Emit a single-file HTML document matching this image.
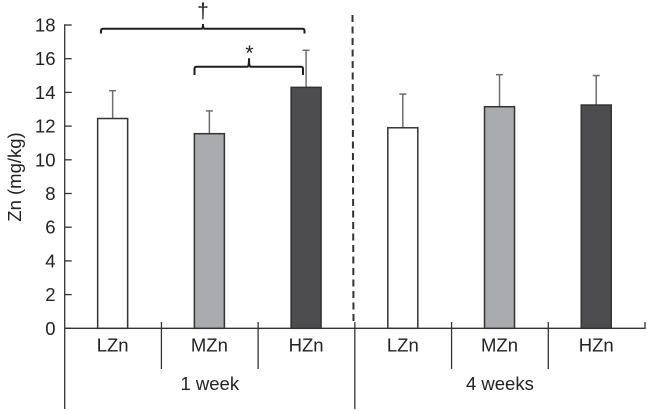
<!DOCTYPE html>
<html lang="en">
<head>
<meta charset="utf-8">
<title>Zn by dose and time</title>
<style>
html,body{margin:0;padding:0;background:#fff;width:647px;height:411px;overflow:hidden}
svg{display:block}
text{font-family:"Liberation Sans",Arial,sans-serif;fill:#222}
</style>
</head>
<body>
<svg id="chart" xmlns="http://www.w3.org/2000/svg" width="647" height="411" viewBox="0 0 647 411">
  <g id="axes"></g>
  <g id="bars"></g>
  <g id="annotations">
    <path d="M101 33.5 V31 Q101 28.8 103 28.8 H201.5 Q203 28.8 203 24 Q203 28.8 204.5 28.8 H302.5 Q304.5 28.8 304.5 31 V33.5" fill="none" stroke="#1e1e1e" stroke-width="2"/>
    <path d="M194.5 75 V69 Q194.5 66.8 196.5 66.8 H247.5 Q249 66.8 249 58.3 Q249 66.8 250.5 66.8 H301 Q303 66.8 303 69 V75" fill="none" stroke="#1e1e1e" stroke-width="2"/>
    <text x="203" y="18" font-size="21" text-anchor="middle">†</text>
    <text x="249.5" y="60" font-size="21" text-anchor="middle">*</text>
  </g>
  <line x1="352.5" y1="15" x2="353.5" y2="322" stroke="#333" stroke-width="2" stroke-dasharray="7 4.5"/>
  <text transform="translate(21 177) rotate(-90)" font-size="18.5" text-anchor="middle">Zn (mg/kg)</text>
</svg>
<script>
const categories = ['LZn', 'MZn', 'HZn', 'LZn', 'MZn', 'HZn'];
const seriesMeans = [12.45, 11.55, 14.3, 11.9, 13.15, 13.25];
const errorTops = [14.1, 12.9, 16.5, 13.9, 15.05, 15.0];
const barFills = ['#ffffff', '#a9abae', '#4d4d4f', '#ffffff', '#a9abae', '#4d4d4f'];
const yTicks = [0, 2, 4, 6, 8, 10, 12, 14, 16, 18];
const groups = ['1 week', '4 weeks'];

const NS = 'http://www.w3.org/2000/svg';
const plotLeft = 64.7, plotRight = 645, y0 = 328.3, pxPerUnit = 16.85;
const bandW = (plotRight - plotLeft) / categories.length;
const yScale = v => y0 - v * pxPerUnit;
const xCenter = i => plotLeft + bandW * (i + 0.5);
function add(parent, tag, attrs, text) {
  const el = document.createElementNS(NS, tag);
  for (const k in attrs) el.setAttribute(k, attrs[k]);
  if (text !== undefined) el.textContent = text;
  parent.appendChild(el);
  return el;
}
const axes = document.getElementById('axes');
const barsG = document.getElementById('bars');

const yAxis = add(axes, 'line', {x1: plotLeft, y1: yScale(18) - 0.7, x2: plotLeft, y2: 409, stroke: '#333', 'stroke-width': 1.3});


const xAxis = add(axes, 'line', {x1: plotLeft, y1: y0, x2: plotRight, y2: y0, stroke: '#333', 'stroke-width': 1.3});



yTicks.forEach(t => {
  const tick = add(axes, 'line', {x1: plotLeft, x2: plotLeft + 7, y1: yScale(t), y2: yScale(t), stroke: '#333', 'stroke-width': 1.3});
  
  
  const lab = add(axes, 'text', {x: 55.5, y: yScale(t) + 6.5, 'font-size': 18.5, 'text-anchor': 'end'}, String(t));
  
  
});

categories.forEach((c, i) => {
  const lab = add(axes, 'text', {x: xCenter(i) - 0.4, y: 351.5, 'font-size': 18.5, 'text-anchor': 'middle'}, c);
  
  
  if (i > 0) {
    const major = i % 3 === 0;
    const sep = add(axes, 'line', {x1: plotLeft + bandW * i, x2: plotLeft + bandW * i, y1: 322, y2: major ? 409 : 369, stroke: '#333', 'stroke-width': 1.3});
    
    
  }
});
const endTick = add(axes, 'line', {x1: plotRight, x2: plotRight, y1: 322, y2: 329, stroke: '#333', 'stroke-width': 1.3});



groups.forEach((g, i) => {
  const cx = plotLeft + bandW * (3 * i + 1.5);
  const lab = add(axes, 'text', {x: cx, y: 390, 'font-size': 18.5, 'text-anchor': 'middle'}, g);
  
  
});

const barW = 30;
seriesMeans.forEach((v, i) => {
  const cx = xCenter(i) - 0.4;
  const stem = add(barsG, 'line', {x1: cx, x2: cx, y1: yScale(errorTops[i]), y2: yScale(v), stroke: '#6e6e6e', 'stroke-width': 1.5});
  
  
  const cap = add(barsG, 'line', {x1: cx - 3.5, x2: cx + 3.5, y1: yScale(errorTops[i]), y2: yScale(errorTops[i]), stroke: '#6e6e6e', 'stroke-width': 1.5});
  
  
  const bar = add(barsG, 'rect', {x: cx - barW / 2, y: yScale(v), width: barW, height: y0 - yScale(v), fill: barFills[i], stroke: '#333', 'stroke-width': 1.5});
  
  
});
</script>
</body>
</html>
